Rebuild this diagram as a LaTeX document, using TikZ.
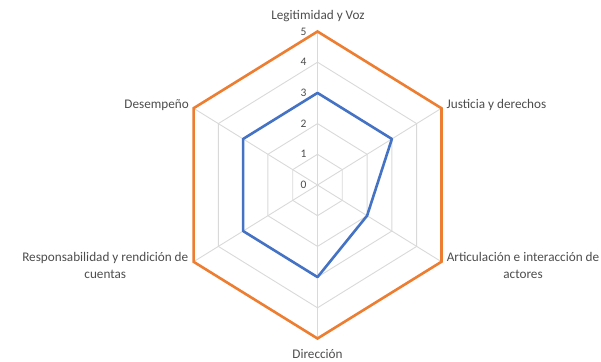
\documentclass[tikz,border=0pt]{standalone}
\usepackage{fontspec}
\setmainfont{Carlito}
\definecolor{gridgray}{HTML}{D9D9D9}
\definecolor{txtgray}{HTML}{4D4D4D}
\definecolor{xlorange}{HTML}{ED7D31}
\definecolor{xlblue}{HTML}{4472C4}
\begin{document}
\begin{tikzpicture}[x=1pt,y=1pt,
  gridline/.style={draw=gridgray,line width=0.9pt},
  outerline/.style={draw=xlorange,line width=2.6pt,line join=miter},
  seriesline/.style={draw=xlblue,line width=2.6pt,line join=round},
  axlabel/.style={text=txtgray,font=\fontsize{13.2}{16.5}\selectfont,inner sep=0pt,align=center},
  ticklabel/.style={text=txtgray,font=\fontsize{11.5}{13}\selectfont,inner sep=0pt}]
\useasboundingbox (0,0) rectangle (601,361);
\begin{scope}[shift={(317.5,176)},xscale=0.9325]
  \coordinate (c) at (0,0);
  % grid levels
  \foreach \k in {1,...,5}{
    \draw[gridline] (90:30.7*\k) -- (30:30.7*\k) -- (-30:30.7*\k) -- (-90:30.7*\k) -- (-150:30.7*\k) -- (150:30.7*\k) -- cycle;
  }
  \foreach \a in {90,30,-30,-90,-150,150}{
    \draw[gridline] (c) -- (\a:153.5);
  }
  % outer series (5)
  \coordinate (o1) at (90:153.5);
  \coordinate (o2) at (30:153.5);
  \coordinate (o3) at (-30:153.5);
  \coordinate (o4) at (-90:153.5);
  \coordinate (o5) at (-150:153.5);
  \coordinate (o6) at (150:153.5);
  \draw[outerline] (o1) -- (o2) -- (o3) -- (o4) -- (o5) -- (o6) -- cycle;
  % blue series
  \coordinate (b1) at (90:92.1);
  \coordinate (b2) at (30:92.1);
  \coordinate (b3) at (-30:61.4);
  \coordinate (b4) at (-90:92.1);
  \coordinate (b5) at (-150:92.1);
  \coordinate (b6) at (150:92.1);
  \draw[seriesline] (b1) -- (b2) -- (b3) -- (b4) -- (b5) -- (b6) -- cycle;
  % tick labels
  \foreach \k in {0,...,5}{
    \node[ticklabel] (t\k) at (-15,30.7*\k) {\k};
  }
\end{scope}
% axis labels
\node[axlabel] (l1) at (318,345) {Legitimidad y Voz};
\node[axlabel,anchor=west] (l2) at (446.5,256) {Justicia y derechos};
\node[axlabel] (l3) at (523,95.5) {Articulación e interacción de\\actores};
\node[axlabel] (l4) at (317.5,6.5) {Dirección};
\node[axlabel] (l5) at (105.3,95.5) {Responsabilidad y rendición de\\cuentas};
\node[axlabel,anchor=east] (l6) at (189,256) {Desempeño};
\end{tikzpicture}
\end{document}
